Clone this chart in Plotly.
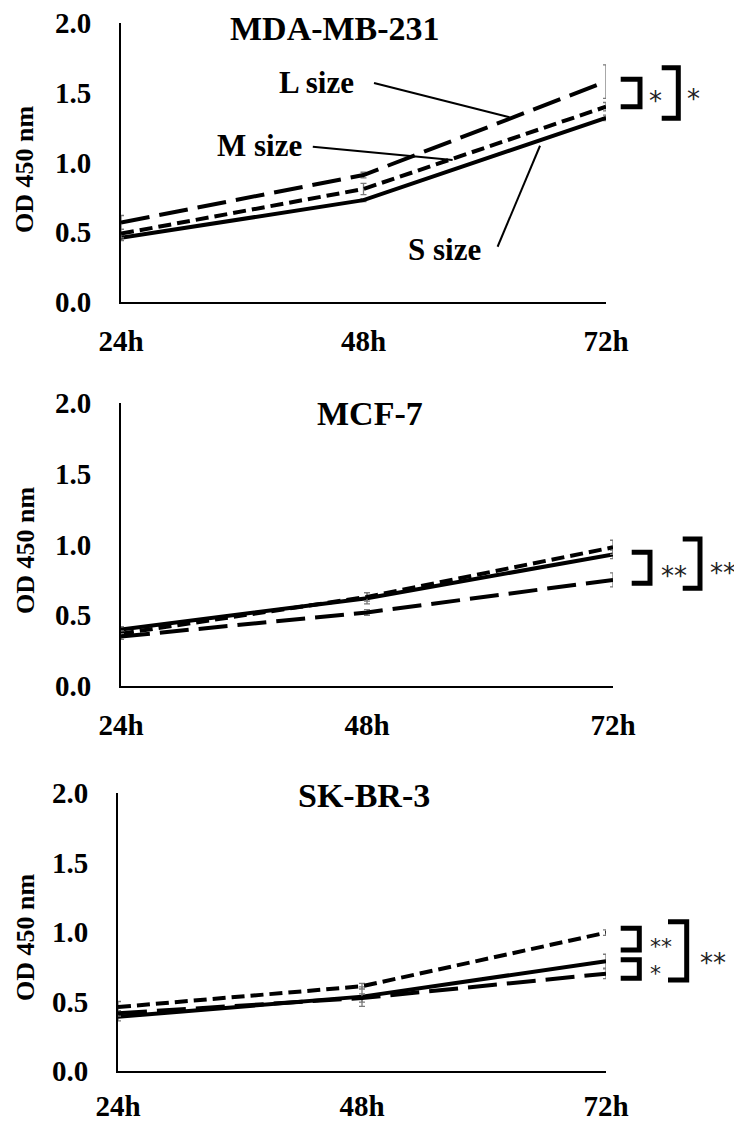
import plotly.graph_objects as go

# ---------------- data ----------------
hours = [24, 48, 72]
hour_labels = ["24h", "48h", "72h"]
y_ticks = [0.0, 0.5, 1.0, 1.5, 2.0]
y_tick_labels = ["0.0", "0.5", "1.0", "1.5", "2.0"]
size_names = ["S size", "M size", "L size"]

panel_titles = ["MDA-MB-231", "MCF-7", "SK-BR-3"]

# MDA-MB-231
mda_S = [0.46, 0.73, 1.32]
mda_S_err = [0.02, 0.01, 0.02]
mda_M = [0.49, 0.81, 1.40]
mda_M_err = [0.03, 0.04, 0.03]
mda_L = [0.57, 0.91, 1.58]
mda_L_err = [0.05, 0.02, 0.12]

# MCF-7
mcf_S = [0.40, 0.62, 0.93]
mcf_S_err = [0.02, 0.04, 0.03]
mcf_M = [0.37, 0.63, 0.98]
mcf_M_err = [0.02, 0.03, 0.05]
mcf_L = [0.35, 0.52, 0.75]
mcf_L_err = [0.02, 0.02, 0.05]

# SK-BR-3
skbr_S = [0.39, 0.535, 0.79]
skbr_S_err = [0.03, 0.07, 0.05]
skbr_M = [0.46, 0.61, 0.995]
skbr_M_err = [0.04, 0.02, 0.02]
skbr_L = [0.415, 0.525, 0.70]
skbr_L_err = [0.02, 0.03, 0.035]

panels = [
    (mda_S, mda_S_err, mda_M, mda_M_err, mda_L, mda_L_err),
    (mcf_S, mcf_S_err, mcf_M, mcf_M_err, mcf_L, mcf_L_err),
    (skbr_S, skbr_S_err, skbr_M, skbr_M_err, skbr_L, skbr_L_err),
]

# significance marks: (text, x pixel of glyph centre, y in data units, font size)
sig_marks = [
    [("*", 655.7, 1.484, 26), ("*", 693.0, 1.498, 26)],
    [("**", 674.0, 0.82, 26), ("**", 723.0, 0.843, 26)],
    [("**", 661.0, 0.93, 22), ("*", 655.0, 0.741, 22), ("**", 712.5, 0.82, 26)],
]
# brackets: (x left px, x right px, y top data, y bottom data)
brackets = [
    [(620.7, 640.0, 1.596, 1.40), (661.7, 678.3, 1.68, 1.317)],
    [(631.7, 650.0, 0.945, 0.726), (682.7, 700.0, 1.039, 0.69)],
    [(620.7, 639.3, 1.027, 0.87), (620.7, 639.3, 0.80, 0.667), (668.0, 686.7, 1.074, 0.655)],
]

# ---------------- layout geometry (pixels of the 742x1124 page) ----------------
PAGE_OFF = 8            # default body margin of the html page
W, H = 742 - PAGE_OFF, 1124 - PAGE_OFF
# (x left, x right, y top(2.0), y bottom(0.0))
boxes = [(121, 606, 23, 302), (121, 613, 403, 686), (118, 606, 793, 1071)]
xlabel_standoff = [12, 12, 8]
title_pos = [(335, 29), (370, 413), (364, 795)]
ytitle_pos = [(25, 170), (25, 551), (25, 938)]

SERIF = "Liberation Serif, Times New Roman, serif"
STAR = "DejaVu Sans, sans-serif"

def px(x):
    return (x - PAGE_OFF) / W

def py(y):
    return 1 - (y - PAGE_OFF) / H

fig = go.Figure()

styles = [
    dict(dash="solid"),
    dict(dash="13px,6px"),
    dict(dash="29px,10px"),
]

for i, (S, Se, M, Me, L, Le) in enumerate(panels):
    xa = "x" if i == 0 else f"x{i+1}"
    ya = "y" if i == 0 else f"y{i+1}"
    for name, vals, errs, st in [
        (size_names[0], S, Se, styles[0]),
        (size_names[1], M, Me, styles[1]),
        (size_names[2], L, Le, styles[2]),
    ]:
        fig.add_trace(go.Scatter(
            x=hours, y=vals, mode="lines", name=name, showlegend=False,
            xaxis=xa, yaxis=ya,
            line=dict(color="black", width=4, dash=st["dash"]),
            error_y=dict(type="data", array=errs, visible=True,
                         color="#7a7a7a", thickness=1.3, width=3),
        ))

    x0, x1, yt, yb = boxes[i]
    axkey = "xaxis" if i == 0 else f"xaxis{i+1}"
    aykey = "yaxis" if i == 0 else f"yaxis{i+1}"
    fig.update_layout(**{
        axkey: dict(
            domain=[px(x0), px(x1)], anchor=ya, range=[24, 72],
            tickmode="array", tickvals=hours, ticktext=hour_labels,
            showline=True, linecolor="black", linewidth=2,
            showgrid=False, zeroline=False, ticks="", automargin=False,
            ticklabeloverflow="allow",
            tickfont=dict(family=SERIF, size=29, color="black", weight="bold"),
            ticklabelstandoff=xlabel_standoff[i], fixedrange=True,
        ),
        aykey: dict(
            domain=[py(yb), py(yt)], anchor=xa, range=[0, 2],
            tickmode="array", tickvals=y_ticks, ticktext=y_tick_labels,
            showline=True, linecolor="black", linewidth=2,
            showgrid=False, zeroline=False, ticks="", automargin=False,
            ticklabeloverflow="allow",
            tickfont=dict(family=SERIF, size=29, color="black", weight="bold"),
            ticklabelstandoff=22, fixedrange=True,
        ),
    })

    # panel title
    tx, ty = title_pos[i]
    fig.add_annotation(x=px(tx), y=py(ty), xref="paper", yref="paper",
                       text=panel_titles[i], showarrow=False,
                       xanchor="center", yanchor="middle",
                       font=dict(family=SERIF, size=34, color="black", weight="bold"))
    # y axis title
    ox, oy = ytitle_pos[i]
    fig.add_annotation(x=px(ox), y=py(oy), xref="paper", yref="paper",
                       text="OD 450 nm", showarrow=False, textangle=-90,
                       xanchor="center", yanchor="middle",
                       font=dict(family=SERIF, size=26, color="black", weight="bold"))

    # brackets
    for (bx0, bx1, by0, by1) in brackets[i]:
        fig.add_shape(type="path", xref="paper", yref=ya,
                      path=f"M {px(bx0)},{by0} L {px(bx1)},{by0} L {px(bx1)},{by1} L {px(bx0)},{by1}",
                      line=dict(color="black", width=5))
    # asterisks
    for (txt, sx, sy, fs) in sig_marks[i]:
        fig.add_annotation(x=px(sx), y=sy, xref="paper", yref=ya, text=txt,
                           showarrow=False, xanchor="center", yanchor="middle",
                           yshift=-round(0.214 * fs),
                           font=dict(family=STAR, size=fs, color="#222222"))

# size labels with leader lines on the first panel
label_text_pos = [(55.97, 0.373), (37.73, 1.125), (43.3, 1.57)]
label_line = [((61.27, 0.396), (65.47, 1.12)),
              ((42.98, 1.113), (56.82, 1.018)),
              ((49.04, 1.570), (62.45, 1.324))]
for name, (lx, ly), ((ax0, ay0), (ax1, ay1)) in zip(size_names, label_text_pos, label_line):
    fig.add_annotation(x=lx, y=ly, xref="x", yref="y", text=name, showarrow=False,
                       xanchor="center", yanchor="middle",
                       font=dict(family=SERIF, size=31, color="black", weight="bold"))
    fig.add_shape(type="line", xref="x", yref="y", x0=ax0, y0=ay0, x1=ax1, y1=ay1,
                  line=dict(color="black", width=2))

fig.update_layout(
    width=W, height=H, margin=dict(l=0, r=0, t=0, b=0, autoexpand=False),
    paper_bgcolor="white", plot_bgcolor="white", showlegend=False,
)

fig.write_html("out.html")
